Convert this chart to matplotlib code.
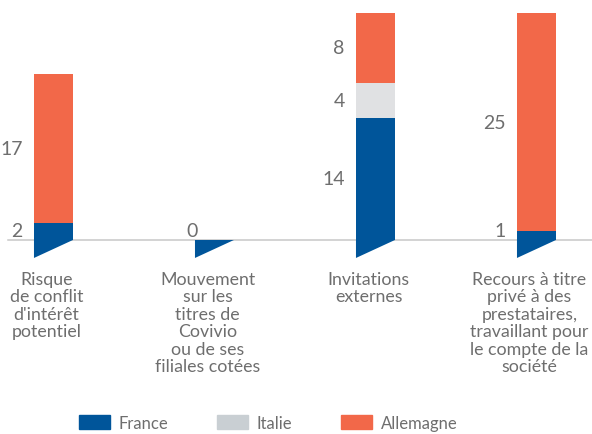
import numpy as np
import matplotlib
matplotlib.use("Agg")
import matplotlib.pyplot as plt
from matplotlib.patches import Patch, Polygon

# données
categories = [
    "Risque\nde conflit\nd'intérêt\npotentiel",
    "Mouvement\nsur les\ntitres de\nCovivio\nou de ses\nfiliales cotées",
    "Invitations\nexternes",
    "Recours à titre\nprivé à des\nprestataires,\ntravaillant pour\nle compte de la\nsociété",
]
france = np.array([2, 0, 14, 1])
italie = np.array([0, 0, 4, 0])
allemagne = np.array([17, 0, 8, 25])
series_names = ["France", "Italie", "Allemagne"]

# couleurs
c_france = "#00559A"
c_italie = "#E0E1E3"
c_italie_leg = "#C9CFD3"
c_allemagne = "#F26849"
c_text = "#6E6E6E"

plt.rcParams['font.family'] = ['Lato', 'DejaVu Sans']

fig = plt.figure(figsize=(5.92, 4.35), dpi=100)
ax = fig.add_axes([0, 0, 1, 1])
ax.axis('off')

x = np.arange(len(categories))
w = 0.242
ax.set_xlim(-0.332, 3.345)
ax.set_ylim(-22.22, 27.60)

# ligne de base
ax.axhline(0, xmin=8 / 592, xmax=1, color="#C8C8C8", lw=1.1, zorder=1)

series = [france, italie, allemagne]
colors = [c_france, c_italie, c_allemagne]
bottom = np.zeros(len(categories))
for vals, col in zip(series, colors):
    ax.bar(x, vals, w, bottom=bottom, color=col, linewidth=0, zorder=2)
    bottom = bottom + vals

# triangles sous la base
tri_h = 2.06
for xi in x:
    ax.add_patch(Polygon([(xi - w / 2, 0), (xi + w / 2, 0), (xi - w / 2, -tri_h)],
                         closed=True, facecolor=c_france, edgecolor='none', zorder=2))

# valeurs à gauche des barres
for i, xi in enumerate(x):
    base = 0
    total = sum(s[i] for s in series)
    if total == 0:
        ax.annotate("0", xy=(xi - w / 2, 1.1), xytext=(2, 0), textcoords='offset points',
                    ha='right', va='center', fontsize=14, color=c_text)
        continue
    for s in series:
        v = s[i]
        if v > 0:
            y = max(base + v / 2, 1.1)
            ax.annotate(str(v), xy=(xi - w / 2, y), xytext=(-8, 0), textcoords='offset points',
                        ha='right', va='center', fontsize=14, color=c_text)
        base += v

# libellés des catégories
for xi, cat in zip(x, categories):
    ax.annotate(cat, xy=(xi, 0), xytext=(-5, -22), textcoords='offset points',
                ha='center', va='top', fontsize=12.8, color=c_text, linespacing=1.12)

# légende
handles = [Patch(color=c_france, label=series_names[0]),
           Patch(color=c_italie_leg, label=series_names[1]),
           Patch(color=c_allemagne, label=series_names[2])]
fig.legend(handles=handles, loc='center', bbox_to_anchor=(268 / 592, 1 - 424 / 435),
           ncol=3, frameon=False, fontsize=12, handlelength=1.9, handleheight=0.9,
           handletextpad=0.5, columnspacing=2.9, labelcolor=c_text)

fig.savefig("out.png", dpi=100)
